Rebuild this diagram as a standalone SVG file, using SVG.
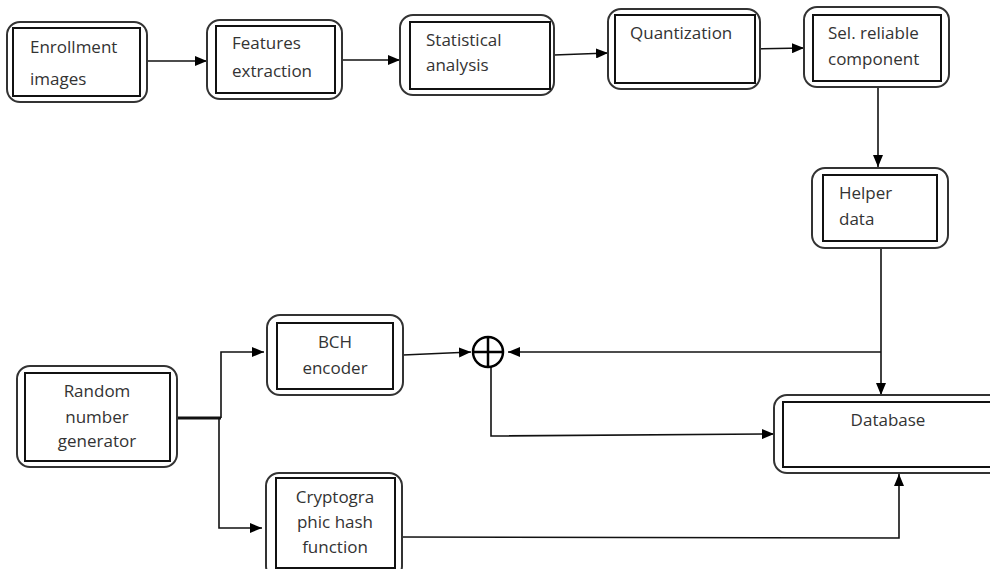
<svg xmlns="http://www.w3.org/2000/svg" width="990" height="569" viewBox="0 0 990 569">
<style>
.outer{fill:#fff;stroke:#333;stroke-width:2}
.inner{fill:none;stroke:#111;stroke-width:2}
.t{font-family:"Open Sans","DejaVu Sans",sans-serif;font-size:17px;fill:#333}
.c{text-anchor:middle}
.ln{fill:none;stroke:#111;stroke-width:1.6}
</style>
<defs>
<marker id="ah" markerWidth="12" markerHeight="10" refX="12" refY="5" orient="auto" markerUnits="userSpaceOnUse">
<path d="M0,0 L12,5 L0,10 z" fill="#000"/>
</marker>
</defs>
<rect width="990" height="569" fill="#fff"/>
<g id="connectors">
<line class="ln" x1="147" y1="61" x2="207" y2="61" marker-end="url(#ah)"/>
<line class="ln" x1="342" y1="60" x2="400" y2="60" marker-end="url(#ah)"/>
<line class="ln" x1="554" y1="55" x2="608" y2="53" marker-end="url(#ah)"/>
<line class="ln" x1="750" y1="49" x2="804" y2="48" marker-end="url(#ah)"/>
<line class="ln" x1="878" y1="87" x2="878" y2="167" marker-end="url(#ah)"/>
<line class="ln" x1="881" y1="248" x2="881" y2="395" marker-end="url(#ah)"/>
<line class="ln" x1="881" y1="352" x2="508" y2="352" marker-end="url(#ah)"/>
<line class="ln" x1="403" y1="355" x2="471" y2="352" marker-end="url(#ah)"/>
<polyline class="ln" points="491,367 491,436 774,434" marker-end="url(#ah)"/>
<line x1="177" y1="418" x2="221" y2="418" stroke="#111" stroke-width="3"/>
<polyline class="ln" points="221,418 221,352 264,352" marker-end="url(#ah)"/>
<polyline class="ln" points="219,418 219,528 262,528" marker-end="url(#ah)"/>
<polyline class="ln" points="402,537 899,538 899,474" marker-end="url(#ah)"/>
</g>
<g id="xor">
<circle cx="488" cy="352" r="15" fill="#fff" stroke="#000" stroke-width="2.5"/>
<line x1="473" y1="352" x2="503" y2="352" stroke="#000" stroke-width="2.5"/>
<line x1="488" y1="337" x2="488" y2="367" stroke="#000" stroke-width="2.5"/>
</g>
<g id="enrollment">
<rect class="outer" x="7" y="22" width="140" height="80" rx="13"/>
<rect class="inner" x="13" y="28" width="127" height="68"/>
<text class="t" x="30" y="53">Enrollment</text>
<text class="t" x="30" y="85">images</text>
</g>
<g id="features">
<rect class="outer" x="207" y="20" width="135" height="79" rx="13"/>
<rect class="inner" x="216" y="26" width="119" height="67"/>
<text class="t" x="232" y="49">Features</text>
<text class="t" x="232" y="77">extraction</text>
</g>
<g id="statistical">
<rect class="outer" x="400" y="15" width="154" height="80" rx="13"/>
<rect class="inner" x="410" y="22" width="140" height="67"/>
<text class="t" x="426" y="46">Statistical</text>
<text class="t" x="426" y="71">analysis</text>
</g>
<g id="quantization">
<rect class="outer" x="608" y="9" width="152" height="80" rx="13"/>
<rect class="inner" x="615" y="15" width="140" height="68"/>
<text class="t" x="630" y="39">Quantization</text>
</g>
<g id="selreliable">
<rect class="outer" x="804" y="7" width="145" height="80" rx="13"/>
<rect class="inner" x="813" y="15" width="128" height="66"/>
<text class="t" x="828" y="39">Sel. reliable</text>
<text class="t" x="828" y="65">component</text>
</g>
<g id="helper">
<rect class="outer" x="812" y="168" width="136" height="80" rx="13"/>
<rect class="inner" x="823" y="175" width="114" height="66"/>
<text class="t" x="839" y="199">Helper</text>
<text class="t" x="839" y="225">data</text>
</g>
<g id="rng">
<rect class="outer" x="17" y="366" width="160" height="101" rx="13"/>
<rect class="inner" x="25" y="373" width="145" height="88"/>
<text class="t c" x="97" y="397">Random</text>
<text class="t c" x="97" y="423">number</text>
<text class="t c" x="97" y="447">generator</text>
</g>
<g id="bch">
<rect class="outer" x="267" y="315" width="136" height="80" rx="13"/>
<rect class="inner" x="277" y="323" width="116" height="66"/>
<text class="t c" x="335" y="348">BCH</text>
<text class="t c" x="335" y="374">encoder</text>
</g>
<g id="hash">
<rect class="outer" x="266" y="473" width="136" height="106" rx="13"/>
<rect class="inner" x="276" y="478" width="119" height="90"/>
<text class="t c" x="335" y="503">Cryptogra</text>
<text class="t c" x="335" y="528">phic hash</text>
<text class="t c" x="335" y="553">function</text>
</g>
<g id="database">
<rect class="outer" x="774" y="395" width="240" height="78" rx="13"/>
<rect class="inner" x="783" y="402" width="220" height="65"/>
<text class="t c" x="888" y="426">Database</text>
</g>
</svg>
